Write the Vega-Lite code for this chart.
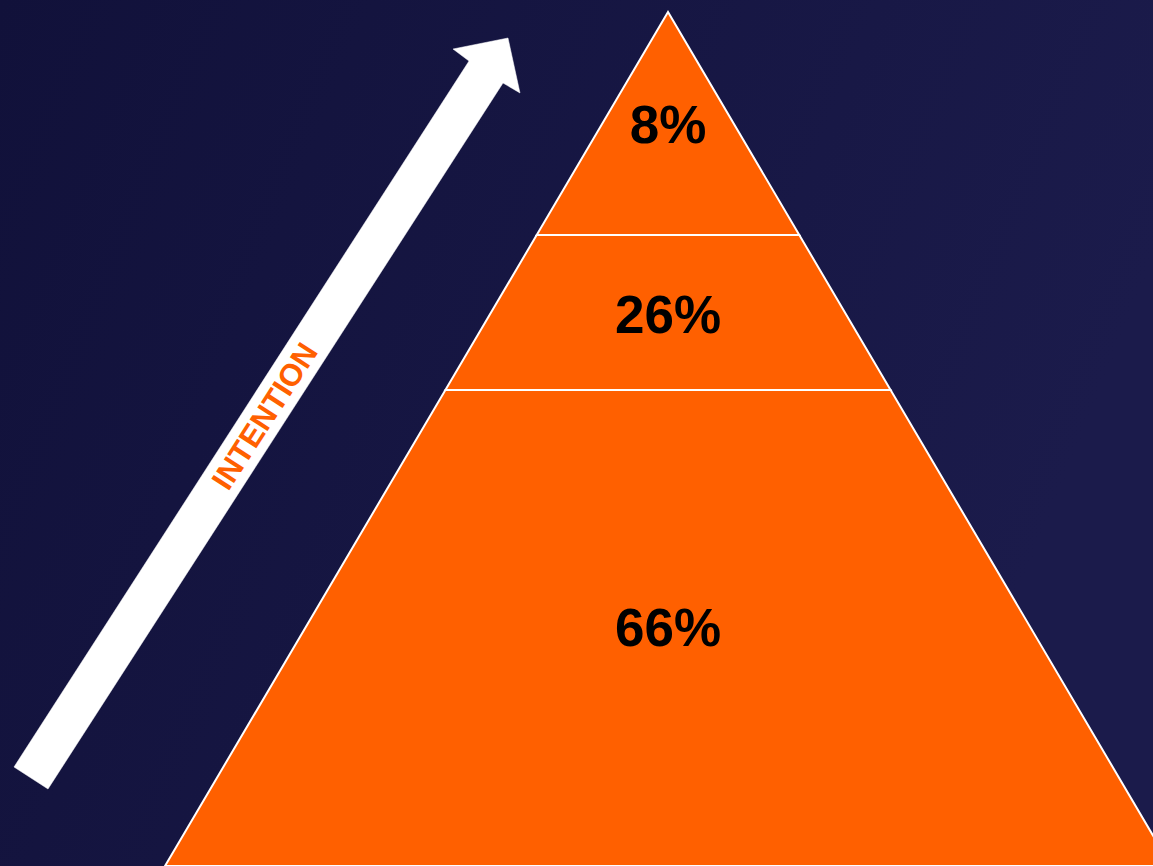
{
  "$schema": "https://vega.github.io/schema/vega-lite/v6.json",
  "width": 1153,
  "height": 866,
  "padding": 0,
  "autosize": {"type": "fit", "contains": "padding"},
  "background": "#16163f",
  "config": {"view": {"stroke": null}, "axis": {"disable": true}},
  "datasets": {
    "bg": [{"x0": 0, "x1": 1153, "y0": 0, "y1": 866}],
    "pyramid": [
      {"seg": "top", "y": 12, "xl": 668, "xr": 668},
      {"seg": "top", "y": 235, "xl": 536.7, "xr": 799.3},
      {"seg": "mid", "y": 235, "xl": 536.7, "xr": 799.3},
      {"seg": "mid", "y": 390, "xl": 445.4, "xr": 890.6},
      {"seg": "bot", "y": 390, "xl": 445.4, "xr": 890.6},
      {"seg": "bot", "y": 866, "xl": 165, "xr": 1171}
    ],
    "arrow": [
      {"i": 1, "x": 14, "y": 767},
      {"i": 2, "x": 469, "y": 61},
      {"i": 3, "x": 453, "y": 49},
      {"i": 4, "x": 508, "y": 38},
      {"i": 5, "x": 520, "y": 93},
      {"i": 6, "x": 503, "y": 83},
      {"i": 7, "x": 48, "y": 789},
      {"i": 8, "x": 14, "y": 767}
    ],
    "labels": [
      {"label": "8%", "x": 668, "y": 143},
      {"label": "26%", "x": 668, "y": 333},
      {"label": "66%", "x": 668, "y": 646}
    ],
    "tag": [{"label": "INTENTION", "x": 266, "y": 417}]
  },
  "layer": [
    {
      "data": {"name": "bg"},
      "mark": {
        "type": "rect",
        "fill": {
          "gradient": "linear", "x1": 0, "y1": 0, "x2": 1, "y2": 0.3,
          "stops": [{"offset": 0, "color": "#11113a"}, {"offset": 1, "color": "#1b1b4b"}]
        }
      },
      "encoding": {
        "x": {"field": "x0", "type": "quantitative", "scale": {"domain": [0, 1153], "nice": false, "zero": false}},
        "x2": {"field": "x1"},
        "y": {"field": "y0", "type": "quantitative", "scale": {"domain": [0, 866], "nice": false, "zero": false, "reverse": true}},
        "y2": {"field": "y1"}
      }
    },
    {
      "data": {"name": "pyramid"},
      "mark": {"type": "area", "orient": "horizontal", "fill": "#ff6000", "stroke": "white", "strokeWidth": 2, "fillOpacity": 1, "clip": true},
      "encoding": {
        "y": {"field": "y", "type": "quantitative"},
        "x": {"field": "xl", "type": "quantitative"},
        "x2": {"field": "xr"},
        "detail": {"field": "seg"}
      }
    },
    {
      "data": {"name": "arrow"},
      "mark": {"type": "line", "filled": true, "fill": "white", "stroke": "white", "strokeWidth": 0.5},
      "encoding": {
        "x": {"field": "x", "type": "quantitative"},
        "y": {"field": "y", "type": "quantitative"},
        "order": {"field": "i", "type": "quantitative"}
      }
    },
    {
      "data": {"name": "labels"},
      "mark": {"type": "text", "font": "Liberation Sans", "fontWeight": "bold", "fontSize": 53, "color": "black", "align": "center", "baseline": "alphabetic"},
      "encoding": {
        "x": {"field": "x", "type": "quantitative"},
        "y": {"field": "y", "type": "quantitative"},
        "text": {"field": "label"}
      }
    },
    {
      "data": {"name": "tag"},
      "mark": {"type": "text", "font": "Liberation Sans", "fontWeight": "bold", "fontSize": 31, "color": "#ff6000", "align": "center", "baseline": "middle", "angle": 302.8},
      "encoding": {
        "x": {"field": "x", "type": "quantitative"},
        "y": {"field": "y", "type": "quantitative"},
        "text": {"field": "label"}
      }
    }
  ]
}
